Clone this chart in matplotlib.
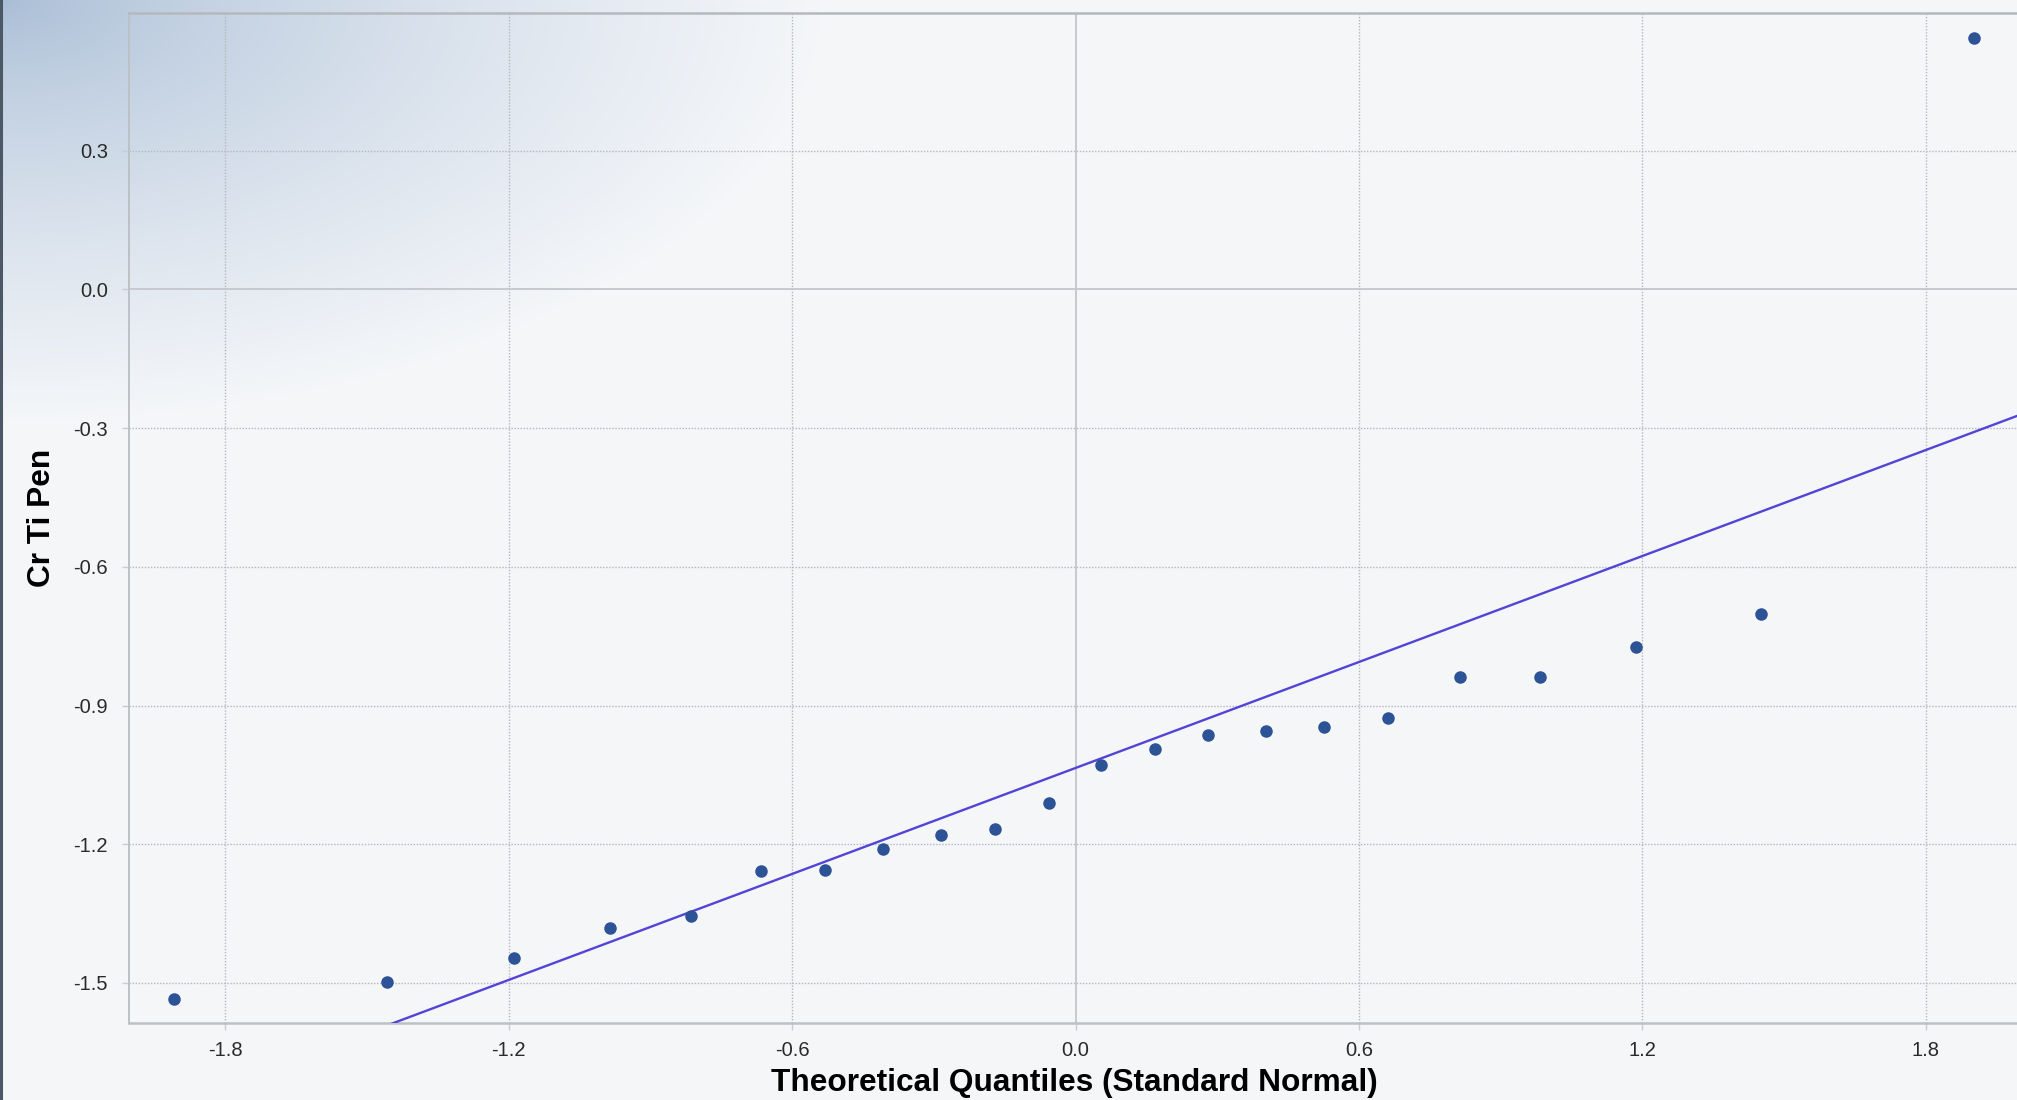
import numpy as np
import matplotlib
matplotlib.use("Agg")
import matplotlib.pyplot as plt
from matplotlib.lines import Line2D

plt.rcParams["axes.unicode_minus"] = False

# Normal Q-Q plot data: theoretical quantiles vs. observed sample values
theo_q = [-1.909, -1.457, -1.189, -0.985, -0.815, -0.666, -0.530, -0.408,
          -0.285, -0.171, -0.057, 0.053, 0.167, 0.281, 0.403, 0.526,
          0.661, 0.814, 0.983, 1.186, 1.451, 1.902]
sample = [-1.534, -1.499, -1.447, -1.381, -1.355, -1.258, -1.255, -1.211,
          -1.180, -1.168, -1.111, -1.028, -0.994, -0.964, -0.955, -0.946,
          -0.926, -0.839, -0.839, -0.774, -0.701, 0.543]

# Reference line y = intercept + slope * z
line_intercept = -1.035
line_slope = 0.382

x_ticks = [-1.8, -1.2, -0.6, 0.0, 0.6, 1.2, 1.8]
y_ticks = [-1.5, -1.2, -0.9, -0.6, -0.3, 0.0, 0.3]
x_tick_labels = ["-1.8", "-1.2", "-0.6", "0.0", "0.6", "1.2", "1.8"]
y_tick_labels = ["-1.5", "-1.2", "-0.9", "-0.6", "-0.3", "0.0", "0.3"]

x_title = "Theoretical Quantiles (Standard Normal)"
y_title = "Cr Ti Pen"

W, H = 2017, 1100
fig = plt.figure(figsize=(W / 100, H / 100), dpi=100)
base = np.array([0.957, 0.965, 0.976])
corner = np.array([0.655, 0.737, 0.835])

# Soft bluish glow from the top-left corner
bg = fig.add_axes([0, 0, 1, 1], zorder=0)
yy, xx = np.mgrid[0:H, 0:W]
r = np.sqrt((xx / 820.0) ** 2 + (yy / 420.0) ** 2)
t = np.clip(r, 0, 1)
s = t ** 0.7
img = corner[None, None, :] * (1 - s[..., None]) + base[None, None, :] * s[..., None]
bg.imshow(img, extent=[0, W, H, 0], aspect="auto", interpolation="bilinear")
bg.set_xlim(0, W)
bg.set_ylim(H, 0)
bg.axis("off")

left = 128.6 / W
bottom = (H - 1022.7) / H
top = (H - 12.9) / H
ax = fig.add_axes([left, bottom, 1.0 - left, top - bottom], zorder=1)
ax.set_facecolor("none")

ax.set_xlim(-2.005, 1.993)
ax.set_ylim(-1.586, 0.598)

# Grid
grid_col = "#b3b8be"
for v in x_ticks:
    if v == 0.0:
        ax.axvline(v, color="#c3c7cc", lw=1.3, zorder=1)
    else:
        ax.axvline(v, color=grid_col, lw=1.0, ls=(0, (1, 1.2)), zorder=1)
for v in y_ticks:
    if v == 0.0:
        ax.axhline(v, color="#c3c7cc", lw=1.3, zorder=1)
    else:
        ax.axhline(v, color=grid_col, lw=1.0, ls=(0, (1, 1.2)), zorder=1)

# Reference line
xl = np.array(ax.get_xlim())
ax.plot(xl, line_intercept + line_slope * xl, color="#5244d6", lw=1.7, zorder=3)

# Sample points
ax.plot(theo_q, sample, ls="none", marker="o", ms=8.0, color="#2c5395",
        mec="#2c5395", zorder=4)

ax.set_xticks(x_ticks)
ax.set_xticklabels(x_tick_labels)
ax.set_yticks(y_ticks)
ax.set_yticklabels(y_tick_labels)
ax.tick_params(axis="both", length=5, width=1, color="#c8cdd3", pad=8,
               labelsize=14.5, labelcolor="#2a2a2a")
ax.tick_params(axis="y", pad=10)
for lab in ax.get_xticklabels() + ax.get_yticklabels():
    lab.set_fontfamily(["Liberation Sans", "DejaVu Sans"])

ax.spines["right"].set_visible(False)
ax.spines["top"].set_color("#b4b9be")
ax.spines["top"].set_linewidth(1.8)
ax.spines["bottom"].set_color("#bcc1c6")
ax.spines["bottom"].set_linewidth(1.8)
ax.spines["left"].set_color("#bcc1c6")
ax.spines["left"].set_linewidth(1.4)

ax.set_xlabel(x_title, fontsize=22.8, fontweight="bold",
              family=["Liberation Sans", "DejaVu Sans"], va="center")
ax.xaxis.set_label_coords(0.501, -0.060)
ax.set_ylabel(y_title, fontsize=22.8, fontweight="bold",
              family=["Liberation Sans", "DejaVu Sans"], va="center")
ax.yaxis.set_label_coords(-0.0459, 0.5)

# Dark window edge on the left
fig.add_artist(Line2D([1.2 / W, 1.2 / W], [0, 1], transform=fig.transFigure,
                      color="#4d5866", lw=2.2, zorder=5))

fig.savefig("out.png", dpi=100)
